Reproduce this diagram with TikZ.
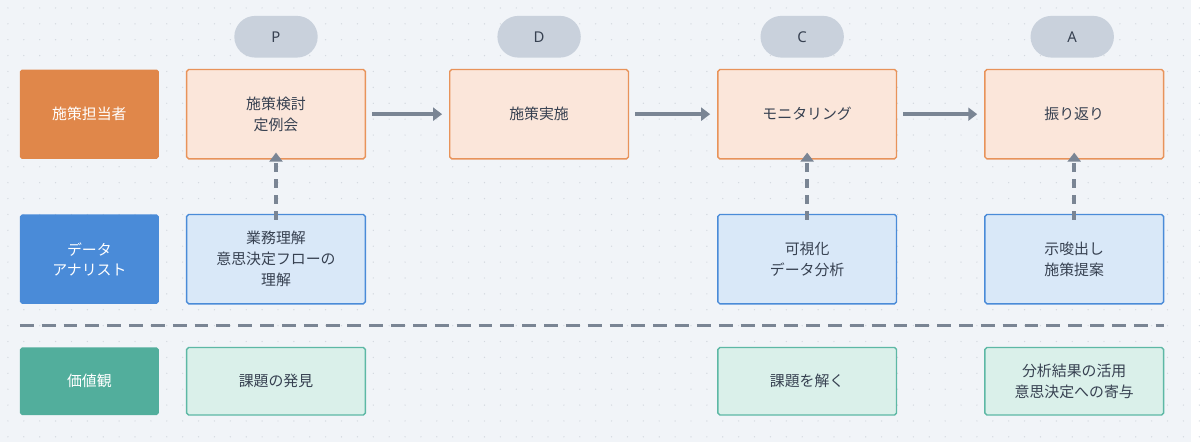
\documentclass[tikz,border=0pt]{standalone}
\usepackage{fontspec}
\setmainfont{Noto Sans CJK JP}
\newfontfamily\latinf{Noto Sans}
\usetikzlibrary{arrows.meta}
\definecolor{bg}{HTML}{F1F4F8}
\definecolor{dotc}{HTML}{D3D8DF}
\definecolor{orD}{HTML}{E0874A}
\definecolor{orL}{HTML}{FBE6DA}
\definecolor{orS}{HTML}{E8935A}
\definecolor{blD}{HTML}{4A8BD8}
\definecolor{blL}{HTML}{D9E8F8}
\definecolor{teD}{HTML}{52AE9C}
\definecolor{teL}{HTML}{DAF0EA}
\definecolor{teS}{HTML}{5DB8A5}
\definecolor{pill}{HTML}{C9D1DC}
\definecolor{txt}{HTML}{374151}
\definecolor{arr}{HTML}{7A8594}
\begin{document}
\begin{tikzpicture}[x=1pt,y=-1pt,
 lab/.style={minimum width=140pt,minimum height=90pt,rounded corners=2pt,text=white,font=\fontsize{15}{20}\selectfont,align=center,inner sep=0},
 box/.style={minimum width=180pt,minimum height=90pt,rounded corners=2pt,line width=1.4pt,text=txt,font=\fontsize{15}{21}\selectfont,align=center,inner sep=0},
 ob/.style={box,fill=orL,draw=orS},
 bb/.style={box,fill=blL,draw=blD},
 tb/.style={box,fill=teL,draw=teS,minimum height=68pt},
 pl/.style={fill=pill,rounded corners=21pt,minimum width=84pt,minimum height=42pt,inner sep=0,text=txt,font=\latinf\bfseries\fontsize{15}{17}\selectfont},
 ha/.style={draw=arr,line width=3.5pt,-{Triangle[length=9pt,width=13pt]}},
 va/.style={draw=arr,line width=3.5pt,dash pattern=on 9pt off 7pt,-{Triangle[length=9pt,width=13pt]}}]
\fill[bg] (0,0) rectangle (1200,445);
\foreach \i in {0,...,75}{\foreach \j in {0,...,27}{\fill[dotc] (\i*16+8,\j*16+8) circle (0.7pt);}}
\useasboundingbox (0,0) rectangle (1200,445);
\node[lab,fill=orD] (l1) at (90,115) {施策担当者};
\node[lab,fill=blD] (l2) at (90,261) {データ\\アナリスト};
\node[lab,fill=teD,minimum height=68pt] (l3) at (90,384) {価値観};
\node[pl] (pP) at (278,37) {P};
\node[pl] (pD) at (543,37) {D};
\node[pl] (pC) at (808,37) {C};
\node[pl] (pA) at (1080,37) {A};
\node[ob] (o1) at (278,115) {施策検討\\定例会};
\node[ob] (o2) at (543,115) {施策実施};
\node[ob] (o3) at (813,115) {モニタリング};
\node[ob] (o4) at (1082,115) {振り返り};
\node[bb] (b1) at (278,261) {業務理解\\意思決定フローの\\理解};
\node[bb] (b3) at (813,261) {可視化\\データ分析};
\node[bb] (b4) at (1082,261) {示唆出し\\施策提案};
\node[tb] (t1) at (278,384) {課題の発見};
\node[tb] (t3) at (813,384) {課題を解く};
\node[tb] (t4) at (1082,384) {分析結果の活用\\意思決定への寄与};
\draw[ha] ([xshift=6pt]o1.east) -- ([xshift=-7pt]o2.west);
\draw[ha] ([xshift=6pt]o2.east) -- ([xshift=-7pt]o3.west);
\draw[ha] ([xshift=6pt]o3.east) -- ([xshift=-7pt]o4.west);
\draw[va] ([yshift=-6pt]b1.north) -- ([yshift=7pt]o1.south);
\draw[va] ([yshift=-6pt]b3.north) -- ([yshift=7pt]o3.south);
\draw[va] ([yshift=-6pt]b4.north) -- ([yshift=7pt]o4.south);
\coordinate (s1) at (20,328); \coordinate (s2) at (1172,328);
\draw[arr,line width=3.5pt,dash pattern=on 14pt off 8pt] (s1) -- (s2);
\end{tikzpicture}
\end{document}
